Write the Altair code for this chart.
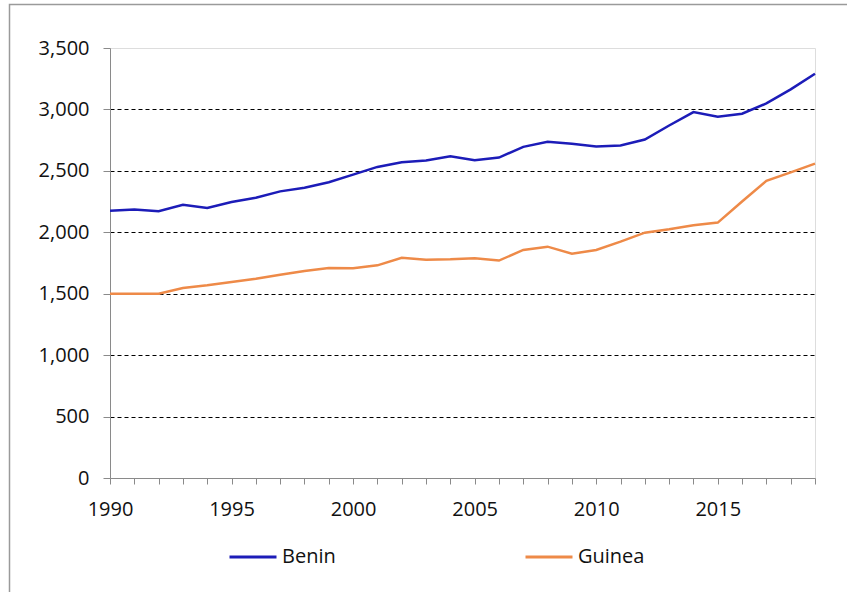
import altair as alt
import pandas as pd

years = list(range(1990, 2020))
benin = [2175, 2186, 2172, 2224, 2197, 2246, 2281, 2333, 2363, 2407,
         2469, 2532, 2570, 2584, 2619, 2586, 2608, 2695, 2736, 2720,
         2698, 2706, 2755, 2869, 2978, 2940, 2965, 3049, 3163, 3291]
guinea = [1500, 1500, 1500, 1546, 1568, 1595, 1622, 1655, 1685, 1709,
          1707, 1731, 1793, 1777, 1780, 1789, 1770, 1856, 1883, 1826,
          1856, 1924, 1997, 2025, 2058, 2079, 2251, 2419, 2488, 2559]
series = ["Benin", "Guinea"]
colors = ["#1C1CB8", "#EE8A48"]
y_ticks = [0, 500, 1000, 1500, 2000, 2500, 3000, 3500]

rows = []
for name, vals in zip(series, [benin, guinea]):
    for yr, v in zip(years, vals):
        rows.append({"year": yr, "value": v, "country": name})
df = pd.DataFrame(rows)

FONT = "Open Sans"

lines = alt.Chart(df).mark_line(strokeWidth=2.5, clip=False).encode(
    x=alt.X("year:Q",
            scale=alt.Scale(domain=[1990, 2019], nice=False, zero=False),
            axis=alt.Axis(values=years, title=None, grid=False,
                          labelExpr="datum.value % 5 == 0 ? datum.value : ''",
                          format="d", labelFontSize=20, labelFont=FONT,
                          labelColor="#111", domainColor="#8a8a8a",
                          tickColor="#8a8a8a", tickSize=6, labelPadding=15,
                          labelFlush=False, labelOverlap=False)),
    y=alt.Y("value:Q",
            scale=alt.Scale(domain=[0, 3500], nice=False),
            axis=alt.Axis(values=y_ticks, title=None, format=",.0f",
                          labelFontSize=20, labelFont=FONT, labelColor="#111",
                          domainColor="#8a8a8a", tickColor="#8a8a8a",
                          tickSize=7, labelPadding=14,
                          gridColor="#000", gridDash=[4, 3], gridWidth=1,
                          gridOpacity={"expr": "datum.value > 0 && datum.value < 3500 ? 1 : 0"})),
    color=alt.Color("country:N",
                    scale=alt.Scale(domain=series, range=colors),
                    legend=alt.Legend(title=None, orient="none",
                                      direction="horizontal", columns=2,
                                      legendX=118, legendY=484,
                                      symbolType="stroke", symbolSize=2209,
                                      symbolStrokeWidth=3, labelFontSize=20,
                                      labelFont=FONT, labelColor="#111",
                                      labelOffset=4, columnPadding=183)),
)

frame = alt.Chart(alt.Data(values=[{"a": 1}])).mark_rect(
    fill=None, stroke="#9a9a9a", strokeWidth=1.5, clip=False
).encode(x=alt.value(-100.5), y=alt.value(-43.5),
         x2=alt.value(760), y2=alt.value(600))

chart = alt.layer(frame, lines).properties(
    width=705, height=430,
    autosize=alt.AutoSizeParams(type="none"),
    padding={"left": 110, "top": 48, "right": 32, "bottom": 114},
).configure_view(stroke="#555", strokeWidth=1.2).configure(background="white")

chart.save("out.html", embed_options={"renderer": "svg", "actions": False})
